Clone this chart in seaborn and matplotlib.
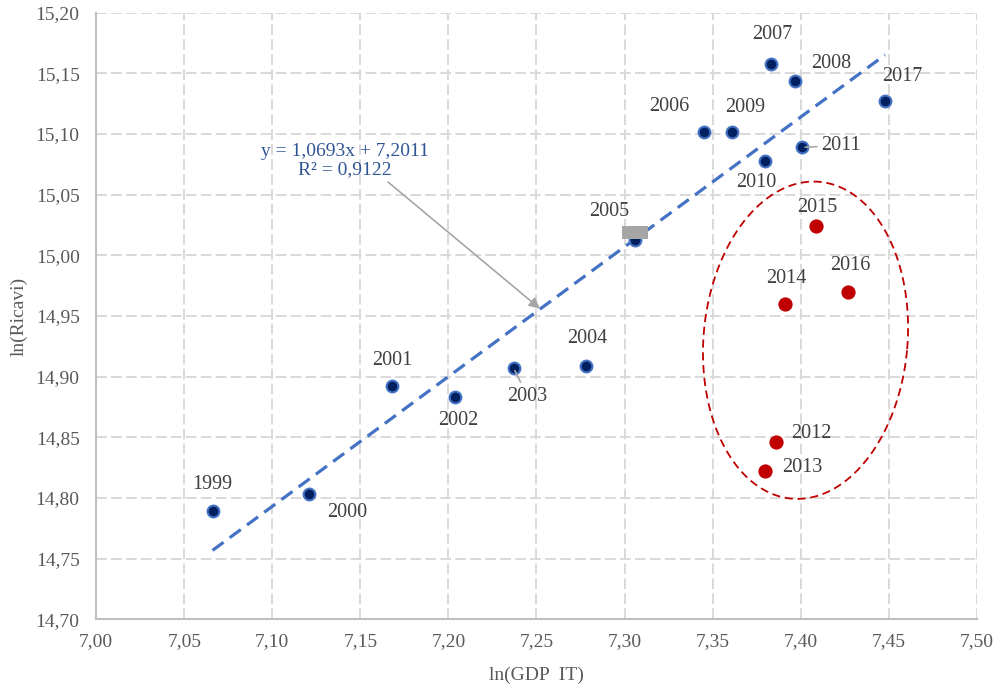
import numpy as np
import pandas as pd
import seaborn as sns
import matplotlib.pyplot as plt
from matplotlib.ticker import FuncFormatter

# Points used for the trend line
years_fit = [1999, 2000, 2001, 2002, 2003, 2004, 2005, 2006, 2007, 2008, 2009, 2010, 2011, 2017]
gdp_fit = [7.066, 7.121, 7.168, 7.204, 7.237, 7.278, 7.306, 7.345, 7.383, 7.397, 7.361, 7.380, 7.401, 7.448]
ricavi_fit = [14.789, 14.803, 14.892, 14.883, 14.907, 14.909, 15.013, 15.102, 15.158, 15.144, 15.102, 15.078, 15.089, 15.127]

# Outlier years (red, circled)
years_out = [2012, 2013, 2014, 2015, 2016]
gdp_out = [7.386, 7.380, 7.391, 7.409, 7.427]
ricavi_out = [14.846, 14.822, 14.960, 15.024, 14.970]

# Trend line from the chart
slope = 1.0693
intercept = 7.2011
eq_text = "y = 1,0693x + 7,2011\nR² = 0,9122"

# Label offsets (pixels) for the year labels
label_offsets = {
    1999: (0, 27), 2000: (38, -18), 2001: (0, 26), 2002: (3, -23), 2003: (14, -28),
    2004: (1, 27), 2005: (-26, 28), 2006: (-35, 25), 2007: (2, 29), 2008: (36, 17),
    2009: (13, 24), 2010: (-9, -22), 2011: (39, 2), 2012: (35, 9), 2013: (37, 4),
    2014: (2, 25), 2015: (1, 19), 2016: (2, 26), 2017: (17, 25),
}
leader_years = [2003, 2011]

df_fit = pd.DataFrame({"year": years_fit, "gdp": gdp_fit, "ricavi": ricavi_fit})
df_out = pd.DataFrame({"year": years_out, "gdp": gdp_out, "ricavi": ricavi_out})

sns.set_theme(style="white")
plt.rcParams["font.family"] = ["Liberation Serif", "DejaVu Serif"]

fig = plt.figure(figsize=(10.01, 6.89), dpi=100)
ax = fig.add_axes([0.0962, 0.1012, 0.8795, 0.8804])

# Trend line
x_line = np.array([df_fit["gdp"].min(), df_fit["gdp"].max()])
trend = pd.DataFrame({"x": x_line, "y": slope * x_line + intercept})
sns.lineplot(data=trend, x="x", y="y", ax=ax, color="#4472C4", lw=2.3,
             linestyle=(0, (4.3, 2.4)), zorder=3)

# Points
sns.scatterplot(data=df_fit, x="gdp", y="ricavi", ax=ax, color="#00205F",
                edgecolor="#4472C4", linewidth=1.5, s=72, zorder=4)
sns.scatterplot(data=df_out, x="gdp", y="ricavi", ax=ax, color="#C00000",
                linewidth=0, s=105, zorder=4)

# Year labels
df_all = pd.concat([df_fit, df_out])
for _, row in df_all.iterrows():
    yr = int(row["year"])
    dx, dy = label_offsets[yr]
    props = None
    if yr in leader_years:
        props = dict(arrowstyle="-", color="#A6A6A6", lw=1.2, shrinkA=1, shrinkB=2)
    ax.annotate(str(yr), xy=(row["gdp"], row["ricavi"]), xytext=(dx, dy),
                textcoords="offset pixels", ha="center", va="center",
                fontsize=14.5, color="#404040", arrowprops=props, zorder=5)

# Axes limits and ticks
ax.set_xlim(7.0, 7.5)
ax.set_ylim(14.7, 15.2)
ax.set_xticks(np.arange(7.0, 7.501, 0.05))
ax.set_yticks(np.arange(14.7, 15.201, 0.05))
fmt = FuncFormatter(lambda v, _: f"{v:.2f}".replace(".", ","))
ax.xaxis.set_major_formatter(fmt)
ax.yaxis.set_major_formatter(fmt)
ax.tick_params(axis="x", length=0, pad=10, labelsize=14, labelcolor="#595959")
ax.tick_params(axis="y", length=0, pad=12, labelsize=14, labelcolor="#595959")

ax.grid(True, color="#D9D9D9", linestyle=(0, (5.5, 2.2)), lw=1.4, zorder=0)
ax.set_axisbelow(True)
for side in ["top", "right"]:
    ax.spines[side].set_visible(False)
for side in ["left", "bottom"]:
    ax.spines[side].set_color("#BFBFBF")
    ax.spines[side].set_linewidth(1.5)

ax.set_xlabel("ln(GDP  IT)", fontsize=14, color="#595959", labelpad=12)
ax.set_ylabel("ln(Ricavi)", fontsize=14, color="#595959", labelpad=6)

# Equation and its arrow
ax.text(7.141, 15.0778, eq_text, ha="center", va="center", fontsize=14,
        color="#2F5597", linespacing=1.1, zorder=5)
ax.annotate("", xy=(7.252, 14.956), xytext=(7.1657, 15.0604),
            arrowprops=dict(arrowstyle="-|>", color="#A6A6A6", lw=1.2,
                            mutation_scale=16, shrinkA=0, shrinkB=0), zorder=5)

# Small grey box next to 2005
ax.add_patch(plt.Rectangle((7.2983, 15.0138), 0.0151, 0.0106,
                           color="#A6A6A6", lw=0, zorder=5))

# Dashed ellipse around the outliers (size in pixels, converted to data)
sx = 1760.8
sy = 1213.0
t = np.linspace(0, 2 * np.pi, 300)
a, b, th = 102, 159, np.deg2rad(-5)
u = a * np.cos(t)
v = b * np.sin(t)
ex = 7.4028 + (u * np.cos(th) - v * np.sin(th)) / sx
ey = 14.930 + (u * np.sin(th) + v * np.cos(th)) / sy
ax.plot(ex, ey, color="#C00000", lw=1.3, linestyle=(0, (4.5, 2.6)), zorder=3)

fig.savefig("out.png", dpi=100)
